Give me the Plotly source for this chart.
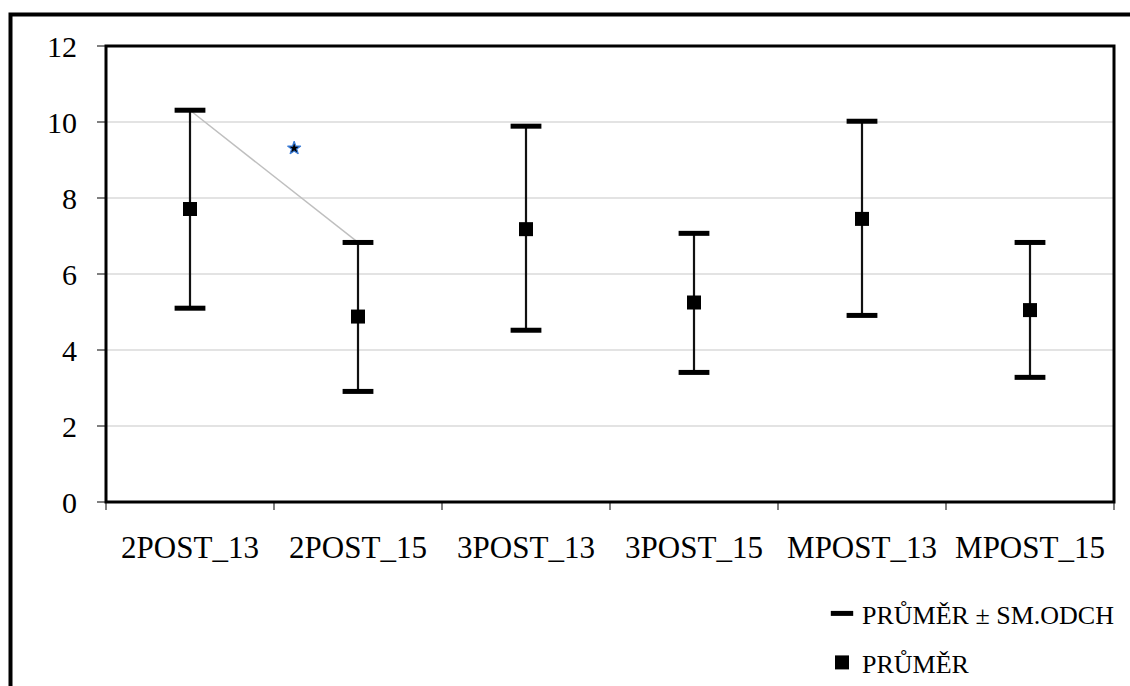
import plotly.graph_objects as go

categories = ["2POST_13", "2POST_15", "3POST_13", "3POST_15", "MPOST_13", "MPOST_15"]
mean_vals = [7.71, 4.88, 7.18, 5.25, 7.45, 5.05]
upper_vals = [10.31, 6.83, 9.89, 7.07, 10.02, 6.83]
lower_vals = [5.10, 2.91, 4.52, 3.41, 4.91, 3.28]
y_ticks = [0, 2, 4, 6, 8, 10, 12]
# stray connector between first two upper values and a stray marker
connector_idx = [0, 1]
stray_x = [0.62]
stray_y = [9.31]

FONT = "Liberation Serif, Times New Roman, serif"

err_plus = [u - m for u, m in zip(upper_vals, mean_vals)]
err_minus = [m - l for m, l in zip(mean_vals, lower_vals)]

fig = go.Figure()

# vertical whiskers
fig.add_trace(go.Scatter(
    x=categories, y=mean_vals, mode="markers",
    marker=dict(size=1, color="rgba(0,0,0,0)"),
    error_y=dict(type="data", symmetric=False, array=err_plus, arrayminus=err_minus,
                 color="#111111", thickness=2.2, width=0),
    showlegend=False, hoverinfo="skip",
))

# grey connector line
fig.add_trace(go.Scatter(
    x=[categories[i] for i in connector_idx], y=[upper_vals[i] for i in connector_idx],
    mode="lines", line=dict(color="#BFBFBF", width=1.5),
    showlegend=False, hoverinfo="skip",
))

# caps (mean ± SD)
fig.add_trace(go.Scatter(
    x=categories + categories, y=upper_vals + lower_vals, mode="markers",
    marker=dict(symbol="line-ew", size=22, line=dict(color="black", width=5)),
    name="PRŮMĚR ± SM.ODCH", legend="legend",
))

# means
fig.add_trace(go.Scatter(
    x=categories, y=mean_vals, mode="markers",
    marker=dict(symbol="square", size=14, color="black"),
    name="PRŮMĚR", legend="legend2",
))

# stray star marker
fig.add_trace(go.Scatter(
    x=stray_x, y=stray_y, xaxis="x2", mode="markers",
    marker=dict(symbol="star", size=10, color="black", line=dict(color="#3B7DD8", width=1.2)),
    showlegend=False, hoverinfo="skip",
))

L, R, T, B = 106, 16, 46, 184
W, H = 1130, 686
pw = W - L - R
ph = H - T - B

def px_x(px):
    return (px - L) / pw

def px_y(py):
    return (H - B - py) / ph

fig.update_layout(
    width=W, height=H,
    margin=dict(l=L, r=R, t=T, b=B, autoexpand=False),
    paper_bgcolor="white", plot_bgcolor="white",
    font=dict(family=FONT, color="black", size=31),
    xaxis=dict(
        type="category", categoryorder="array", categoryarray=categories,
        range=[-0.5, 5.5], tickson="boundaries", ticks="outside", ticklen=7,
        tickcolor="#808080", tickwidth=1.5, showgrid=False, showline=False,
        zeroline=False, tickfont=dict(family=FONT, size=31, color="black"),
        ticklabelstandoff=24,
    ),
    xaxis2=dict(overlaying="x", range=[-0.5, 5.5], visible=False),
    yaxis=dict(
        range=[0, 12], tickvals=y_ticks, ticks="outside", ticklen=8,
        tickcolor="#808080", tickwidth=1.5, showgrid=True, gridcolor="#E3E3E3",
        gridwidth=1.5, zeroline=False, showline=False,
        tickfont=dict(family=FONT, size=30, color="black"),
        ticklabelstandoff=14,
    ),
    legend=dict(
        x=px_x(822), y=px_y(590), xanchor="left", yanchor="top",
        font=dict(family=FONT, size=26, color="black"),
        bgcolor="rgba(0,0,0,0)", borderwidth=0, itemwidth=30,
    ),
    legend2=dict(
        x=px_x(822), y=px_y(639), xanchor="left", yanchor="top",
        font=dict(family=FONT, size=26, color="black"),
        bgcolor="rgba(0,0,0,0)", borderwidth=0, itemwidth=30,
    ),
    shapes=[
        # outer chart frame
        dict(type="rect", xref="paper", yref="paper",
             x0=px_x(10.5), x1=px_x(1300), y0=px_y(900), y1=px_y(14.5),
             line=dict(color="black", width=4), layer="below"),
        # plot area border
        dict(type="rect", xref="paper", yref="paper", x0=0, x1=1, y0=0, y1=1,
             line=dict(color="black", width=3), layer="above"),
    ],
)

fig.write_html(
    "out.html",
    config={"displayModeBar": False},
    post_script="document.body.style.margin='0';document.body.style.overflow='hidden';",
)
